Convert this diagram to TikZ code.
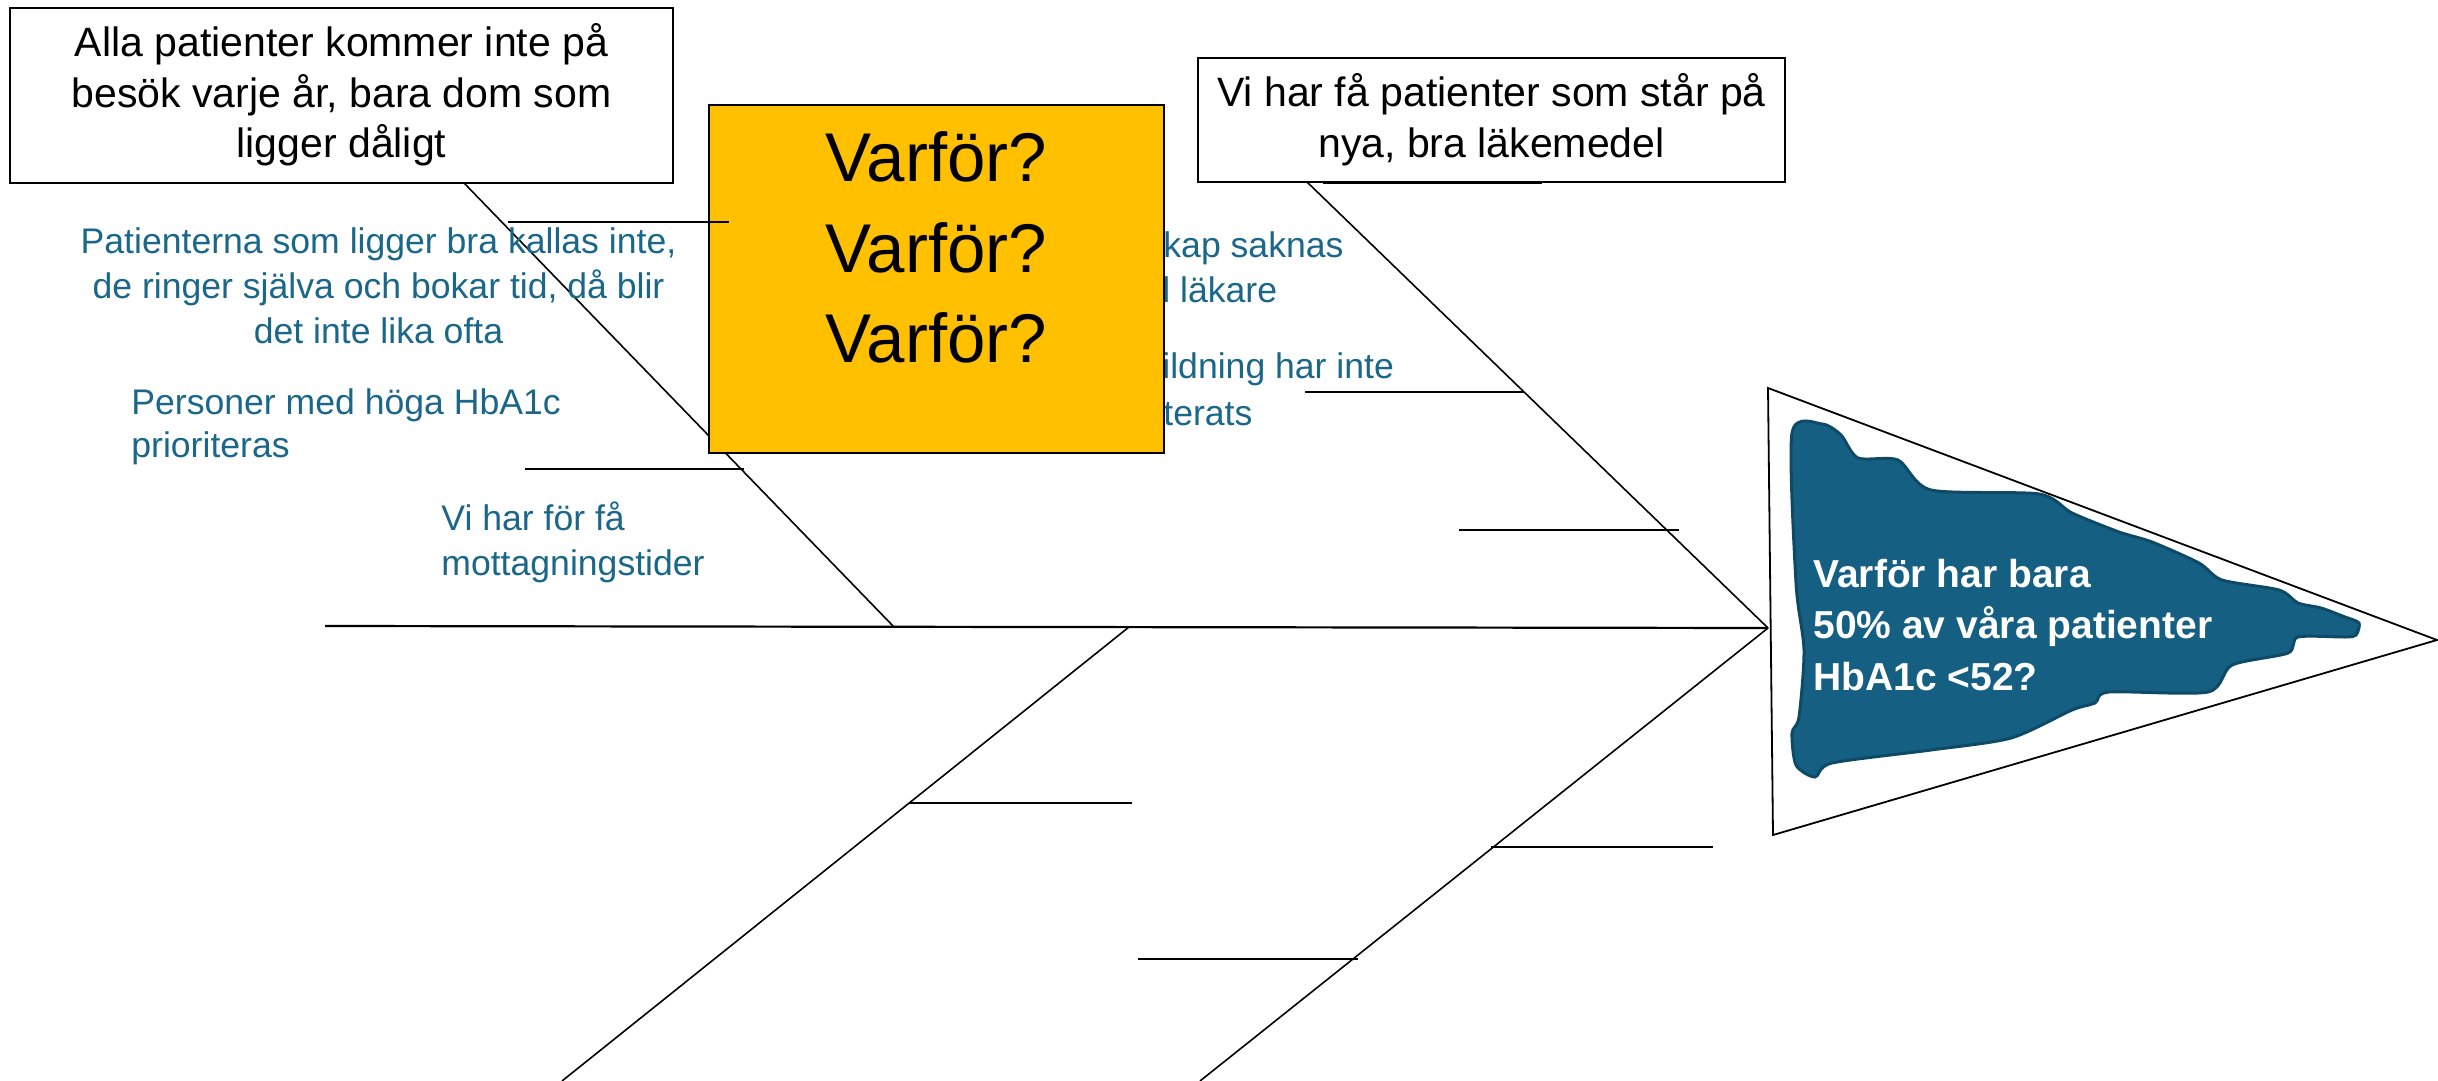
\documentclass[tikz,border=0pt]{standalone}
\usepackage{fontspec}
\setmainfont{Liberation Sans}
\usetikzlibrary{fit}
\definecolor{accent}{HTML}{156082}
\definecolor{acctext}{HTML}{1A678A}
\definecolor{accdark}{HTML}{0E4A66}
\definecolor{gold}{HTML}{FFC000}
\begin{document}
\begin{tikzpicture}[x=0.5pt,y=-0.5pt,
  bone/.style={line width=0.8pt},
  spine/.style={line width=1.1pt},
  twig/.style={line width=1.3pt},
  box/.style={draw, line width=0.9pt, fill=white, inner sep=0pt},
  blk/.style={font=\fontsize{20.5}{25}\selectfont, anchor=base, inner sep=0pt},
  big/.style={font=\fontsize{34.5}{45}\selectfont, anchor=base, inner sep=0pt},
  blu/.style={font=\fontsize{17.8}{22.5}\selectfont, text=acctext, anchor=base, inner sep=0pt},
  bluw/.style={blu, anchor=base west},
  wht/.style={font=\bfseries\fontsize{19.5}{25}\selectfont, text=white, anchor=base west, inner sep=0pt}]
\useasboundingbox (0,0) rectangle (2438,1081);

% coordinates
\coordinate (tail) at (325,626);
\coordinate (head) at (1768,628);
\coordinate (j1) at (894,627);
\coordinate (j3) at (1129,627);
\coordinate (b1) at (464,183);
\coordinate (b2) at (1307,182);
\coordinate (e3) at (562,1081);
\coordinate (e4) at (1200,1081);
\coordinate (t1a) at (508,222);  \coordinate (t1b) at (729,222);
\coordinate (t2a) at (525,469);  \coordinate (t2b) at (744,469);
\coordinate (t3a) at (1323,183); \coordinate (t3b) at (1542,183);
\coordinate (t4a) at (1305,392); \coordinate (t4b) at (1524,392);
\coordinate (t5a) at (1459,530); \coordinate (t5b) at (1679,530);
\coordinate (t6a) at (909,803);  \coordinate (t6b) at (1132,803);
\coordinate (t7a) at (1491,847); \coordinate (t7b) at (1713,847);
\coordinate (t8a) at (1138,959); \coordinate (t8b) at (1358,959);

% partly hidden texts (behind the yellow box)
\node[bluw] (p1) at (1163,257) {kap saknas};
\node[bluw] (p2) at (1162,302) {l läkare};
\node[bluw] (p3) at (1162,378) {ildning har inte};
\node[bluw] (p4) at (1163,425) {terats};

% upper-left bone
\draw[bone] (b1) -- (j1);

% yellow box
\node[draw, line width=0.9pt, fill=gold, inner sep=0pt, fit={(709,105) (1164,453)}] (why) {};
\node[big] (w1) at (936.5,182) {Varför?};
\node[big] (w2) at (936.5,272) {Varför?};
\node[big] (w3) at (936.5,362) {Varför?};

% boxes
\node[box, fit={(10,8) (673,183)}] (cause1) {};
\node[blk] (c1a) at (341.5,57) {Alla patienter kommer inte på};
\node[blk] (c1b) at (341.5,108) {besök varje år, bara dom som};
\node[blk] (c1c) at (341.5,158) {ligger dåligt};

\node[box, fit={(1198,58) (1785,182)}] (cause2) {};
\node[blk] (c2a) at (1491.5,107) {Vi har få patienter som står på};
\node[blk] (c2b) at (1491.5,157) {nya, bra läkemedel};

% blue texts
\node[blu] (n1a) at (378.5,253) {Patienterna som ligger bra kallas inte,};
\node[blu] (n1b) at (378.5,298) {de ringer själva och bokar tid, då blir};
\node[blu] (n1c) at (378.5,343) {det inte lika ofta};
\node[bluw] (n2a) at (131,414) {Personer med höga HbA1c};
\node[bluw] (n2b) at (131,457) {prioriteras};
\node[bluw] (n3a) at (441,530) {Vi har för få};
\node[bluw] (n3b) at (441,575) {mottagningstider};

% spine and bones
\draw[spine] (tail) -- (head);
\draw[bone] (b2) -- (head);
\draw[bone] (j3) -- (e3);
\draw[bone] (head) -- (e4);

% twigs
\draw[twig] (t1a) -- (t1b);
\draw[twig] (t2a) -- (t2b);
\draw[twig] (t3a) -- (t3b);
\draw[twig] (t4a) -- (t4b);
\draw[twig] (t5a) -- (t5b);
\draw[twig] (t6a) -- (t6b);
\draw[twig] (t7a) -- (t7b);
\draw[twig] (t8a) -- (t8b);

% head
\coordinate (hA) at (1768,388);
\coordinate (hB) at (2437,640);
\coordinate (hC) at (1773,835);
\draw[line width=0.9pt, fill=white] (hA) -- (hB) -- (hC) -- cycle;
\draw[fill=accent, draw=accdark, line width=1.5pt] plot[smooth cycle, tension=0.45] coordinates {
 (1792,433) (1822,424) (1841,435) (1858,458) (1898,460) (1931,490) (2039,494)
 (2072,513) (2119,532) (2152,542) (2199,563) (2222,580) (2279,590) (2298,603)
 (2321,608) (2345,617) (2359,623) (2356,635) (2345,637) (2298,637) (2288,653)
 (2232,665) (2208,692) (2109,692) (2095,703) (2072,710) (2011,738) (1931,750)
 (1832,763) (1815,777) (1796,765) (1792,733) (1799,717) (1804,650) (1796,583)};
\node[wht] (q1) at (1813,587) {Varför har bara};
\node[wht] (q2) at (1813,638) {50\% av våra patienter};
\node[wht] (q3) at (1813,690) {HbA1c <52?};
\end{tikzpicture}
\end{document}
